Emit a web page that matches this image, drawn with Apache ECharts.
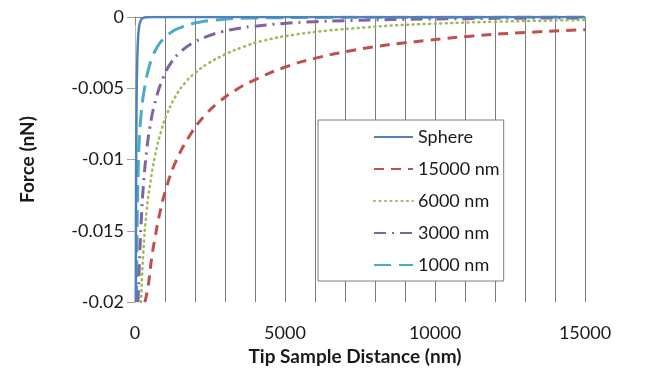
<!DOCTYPE html>
<html>
<head>
<meta charset="utf-8">
<script src="https://cdn.jsdelivr.net/npm/echarts@6/dist/echarts.min.js"></script>
<style>html,body{margin:0;padding:0;background:#fff}#c{width:645px;height:371px}</style>
</head>
<body>
<div id="c"></div>
<script>
const seriesNames = ['Sphere', '15000 nm', '6000 nm', '3000 nm', '1000 nm'];
const xTickLabels = [0, 5000, 10000, 15000];
const yTickLabels = [0, -0.005, -0.01, -0.015, -0.02];

const sphereX = [25, 30, 35, 40, 50, 60, 75, 90, 110, 140, 180, 230, 300, 500, 15000];
const sphereY = [-0.02, -0.016, -0.012, -0.0095, -0.0065, -0.0045, -0.003, -0.002, -0.0012, -0.0006, -0.0003, -0.0001, -0.00004, 0, 0];

const r15000X = [330, 444, 556, 667, 833, 1056, 1370, 1889, 2333, 2778, 3333, 3833, 4944, 6056, 7056, 8056, 8944, 9722, 11278, 13167, 15000];
const r15000Y = [-0.02, -0.0188, -0.0169, -0.0155, -0.0137, -0.0119, -0.0101, -0.0081, -0.0069, -0.006, -0.00516, -0.00457, -0.00356, -0.00287, -0.00242, -0.00207, -0.00182, -0.00165, -0.00133, -0.00107, -0.00089];

const r6000X = [200, 278, 389, 500, 667, 889, 1056, 1333, 1667, 2000, 2444, 3000, 3556, 4278, 5389, 6500, 7611, 8722, 9833, 12000, 15000];
const r6000Y = [-0.02, -0.0165, -0.0136, -0.0118, -0.00975, -0.00787, -0.00687, -0.00563, -0.00462, -0.00393, -0.00325, -0.00263, -0.00214, -0.00166, -0.00122, -0.00094, -0.00074, -0.00058, -0.00048, -0.00033, -0.00021];

const r3000X = [100, 167, 222, 278, 389, 500, 667, 944, 1222, 1556, 1944, 2444, 2889, 3444, 3833, 4944, 6000, 7000, 8000, 9000, 11000, 13000, 15000];
const r3000Y = [-0.02, -0.0162, -0.01374, -0.01187, -0.00938, -0.0077, -0.006, -0.00424, -0.00315, -0.00238, -0.0018, -0.00133, -0.00104, -0.0008, -0.00068, -0.000455, -0.00033, -0.00026, -0.0002, -0.00016, -0.000114, -0.00008, -0.00006];

const r1000X = [50, 70, 90, 111, 150, 200, 260, 333, 440, 556, 750, 944, 1200, 1444, 2000, 2900, 4000, 6000, 9000, 15000];
const r1000Y = [-0.02, -0.015, -0.0122, -0.0104, -0.0083, -0.0069, -0.00577, -0.0048, -0.00375, -0.00295, -0.00207, -0.00154, -0.00108, -0.0008, -0.000425, -0.00017, -0.000075, -0.000033, -0.000013, -0.000007];

const colors = ['#4f81bd', '#c0504d', '#9bbb59', '#8064a2', '#4bacc6'];
const xs = [sphereX, r15000X, r6000X, r3000X, r1000X];
const ys = [sphereY, r15000Y, r6000Y, r3000Y, r1000Y];
const styles = [
  {width: 2.5, type: 'solid'},
  {width: 3, type: [10, 7]},
  {width: 2.5, type: [1, 4.5], cap: 'round'},
  {width: 3, type: [12, 6, 2, 6]},
  {width: 3, type: [17, 8]}
];
const font = 'Lato, "Open Sans", sans-serif';

const chart = echarts.init(document.getElementById('c'), null, {renderer: 'canvas'});
chart.setOption({
  animation: false,
  grid: {left: 135, right: 60, top: 17, bottom: 66},
  legend: {
    orient: 'vertical',
    left: 318, top: 120,
    padding: [8, 4, 7, 55],
    itemWidth: 39, itemHeight: 14, itemGap: 14,
    backgroundColor: '#fff',
    borderColor: '#7f7f7f', borderWidth: 1,
    itemStyle: {opacity: 0, color: 'transparent', borderWidth: 0},
    textStyle: {fontFamily: font, fontSize: 18, color: '#1a1a1a', lineHeight: 18},
    data: seriesNames
  },
  xAxis: {
    type: 'value', min: 0, max: 15000, interval: 1000,
    name: 'Tip Sample Distance (nm)', nameLocation: 'middle', nameGap: 38,
    nameTextStyle: {fontFamily: font, fontSize: 19, fontWeight: 'bold', color: '#1a1a1a', padding: [0, 10, 0, 0]},
    axisLine: {show: true, lineStyle: {color: '#868686', width: 1}},
    axisTick: {show: true, length: 8, lineStyle: {color: '#868686'}},
    axisLabel: {
      margin: 22, fontFamily: font, fontSize: 18, color: '#1a1a1a',
      formatter: v => (xTickLabels.indexOf(v) >= 0 ? String(v) : '')
    },
    splitLine: {show: true, lineStyle: {color: '#7a7a7a', width: 1}}
  },
  yAxis: {
    type: 'value', min: -0.02, max: 0, interval: 0.005,
    name: 'Force (nN)', nameLocation: 'middle', nameGap: 98, nameRotate: 90,
    nameTextStyle: {fontFamily: font, fontSize: 19, fontWeight: 'bold', color: '#1a1a1a'},
    axisLine: {show: true, onZero: false, lineStyle: {color: '#bdbdbd', width: 1}},
    axisTick: {show: true, length: 8, lineStyle: {color: '#a0a0a0'}},
    axisLabel: {
      margin: 11, fontFamily: font, fontSize: 18, color: '#1a1a1a',
      formatter: v => {
        const r = +v.toFixed(3);
        const m = yTickLabels.find(t => Math.abs(t - r) < 1e-9);
        return m === undefined ? '' : String(m);
      }
    },
    splitLine: {show: false}
  },
  series: seriesNames.map((n, i) => ({
    name: n, type: 'line', symbol: 'none', smooth: i === 0 ? false : 0.5,
    clip: true, z: 10 - i,
    color: colors[i],
    lineStyle: Object.assign({color: colors[i]}, styles[i]),
    data: xs[i].map((x, k) => [x, ys[i][k]])
  }))
});
</script>
</body>
</html>
